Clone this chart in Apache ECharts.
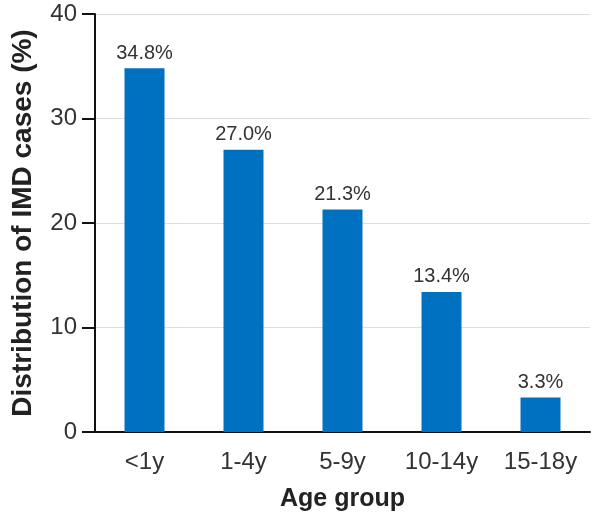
<!DOCTYPE html>
<html>
<head>
<meta charset="utf-8">
<script src="https://cdn.jsdelivr.net/npm/echarts@6/dist/echarts.min.js"></script>
<style>html,body{margin:0;padding:0;background:#fff}#c{width:593px;height:522px}</style>
</head>
<body>
<div id="c"></div>
<script>
const categories = ['<1y', '1-4y', '5-9y', '10-14y', '15-18y'];
const values = [34.8, 27.0, 21.3, 13.4, 3.3];
const yTicks = { min: 0, max: 40, interval: 10 };

const chart = echarts.init(document.getElementById('c'), null, { renderer: 'canvas' });
const font = 'Liberation Sans, Arial, sans-serif';
chart.setOption({
  animation: false,
  grid: { left: 95, right: 3, top: 14, bottom: 90, containLabel: false },
  xAxis: {
    type: 'category',
    data: categories,
    name: 'Age group',
    nameLocation: 'middle',
    nameGap: 55,
    nameTextStyle: { fontFamily: font, fontWeight: 'bold', fontSize: 25, color: '#222' },
    axisLine: { lineStyle: { color: '#111', width: 2 } },
    axisTick: { show: false },
    axisLabel: { fontFamily: font, fontSize: 24, color: '#333', margin: 18 }
  },
  yAxis: {
    type: 'value',
    min: yTicks.min, max: yTicks.max, interval: yTicks.interval,
    name: 'Distribution of IMD cases (%)',
    nameLocation: 'middle',
    nameGap: 58,
    nameTextStyle: { fontFamily: font, fontWeight: 'bold', fontSize: 28, color: '#222' },
    axisLine: { show: true, lineStyle: { color: '#111', width: 2 } },
    axisTick: { show: true, length: 13, lineStyle: { color: '#111', width: 2 } },
    axisLabel: { fontFamily: font, fontSize: 24, color: '#333', margin: 18 },
    splitLine: { lineStyle: { color: '#dddddd', width: 1 } }
  },
  series: [{
    type: 'bar',
    data: values,
    barWidth: 40,
    itemStyle: { color: '#0070c0' },
    label: {
      show: true,
      position: 'top',
      distance: 5,
      fontFamily: font,
      fontSize: 20,
      color: '#333',
      formatter: p => p.value.toFixed(1) + '%'
    }
  }]
});
</script>
</body>
</html>
